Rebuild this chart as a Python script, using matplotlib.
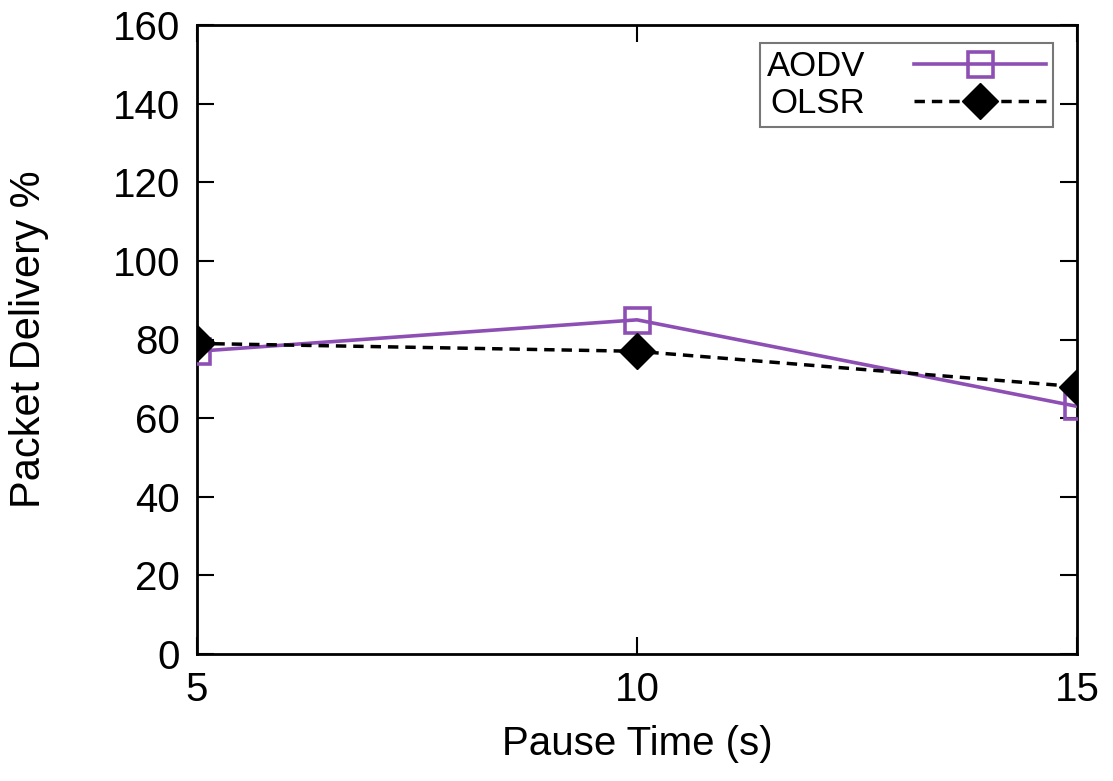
import matplotlib
matplotlib.use("Agg")
import matplotlib.pyplot as plt

pause = [5, 10, 15]
aodv = [77, 85, 63]
olsr = [79, 77, 68]
yticks = [0, 20, 40, 60, 80, 100, 120, 140, 160]

plt.rcParams['font.family'] = ['Liberation Sans', 'DejaVu Sans']
fig = plt.figure(figsize=(11.13, 7.81), dpi=100)
ax = fig.add_axes([197/1113, 1-654/781, (1077-197)/1113, (654-25)/781])

ax.plot(pause, aodv, color='#8e4fb5', lw=2.6, marker='s', ms=18, mfc='none',
        mec='#8e4fb5', mew=2.6, label='AODV', zorder=3)
ax.plot(pause, olsr, color='black', lw=2.5, ls=(0, (3, 2)), marker='D', ms=18,
        mfc='black', mec='black', label='OLSR', zorder=4)

ax.set_xlim(5, 15)
ax.set_ylim(0, 160)
ax.set_xticks(pause)
ax.set_yticks(yticks)
ax.tick_params(direction='in', length=12, width=1.5, top=True, right=True,
               labelsize=29, pad=12)
for s in ax.spines.values():
    s.set_linewidth(2)
ax.set_xlabel('Pause Time (s)', fontsize=29, labelpad=12)
ax.set_ylabel('Packet Delivery %', fontsize=30, labelpad=46)

leg = ax.legend(loc='upper right', bbox_to_anchor=(0.9727, 0.971), markerfirst=False,
                fontsize=25, frameon=True, fancybox=False, edgecolor='#555555',
                handlelength=3.8, borderpad=0.2, labelspacing=0.1, handletextpad=1.4,
                borderaxespad=0)
leg.get_frame().set_linewidth(1.5)
for t in leg.get_texts():
    t.set_ha('center')

fig.savefig('out.png', dpi=100)
